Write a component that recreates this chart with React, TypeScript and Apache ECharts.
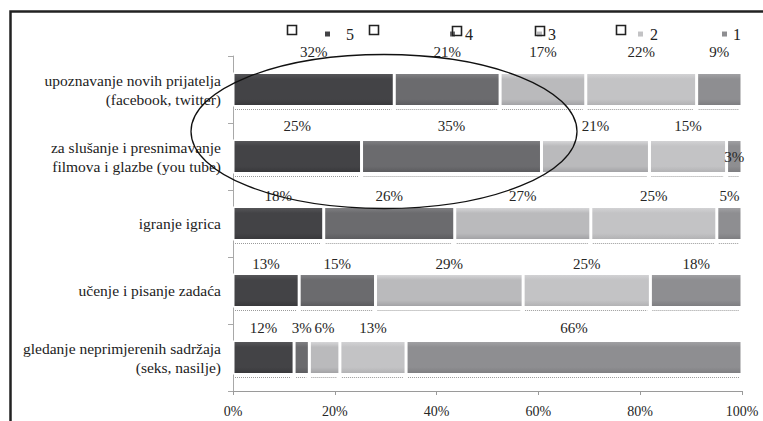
import React, { useEffect, useRef } from "react";
import * as echarts from "echarts";

const categories = [
  "upoznavanje novih prijatelja\n(facebook, twitter)",
  "za slušanje i presnimavanje\nfilmova i glazbe (you tube)",
  "igranje igrica",
  "učenje i pisanje zadaća",
  "gledanje neprimjerenih sadržaja\n(seks, nasilje)",
];
const seriesNames = ["5", "4", "3", "2", "1"];
const s5 = [32, 25, 18, 13, 12];
const s4 = [21, 35, 26, 15, 3];
const s3 = [17, 21, 27, 29, 6];
const s2 = [22, 15, 25, 25, 13];
const s1 = [9, 3, 5, 18, 66];
const xTicks = [0, 20, 40, 60, 80, 100];

const FONT = "'Liberation Serif', 'Times New Roman', serif";

// style-only settings
const labelLift = [13, 6, 3, 2, 5];
const legendLeft = [318, 443, 530, 631, 715];
const legendTextPad = [10, 4, 0, 1, 0];
const emptyBoxes = [
  [292, 30],
  [374, 30],
  [457, 31],
  [540, 31],
  [621, 30],
];
const palette = [
  ["#58585b", "#434346", "#37373a"],
  ["#838386", "#6b6b6e", "#5a5a5d"],
  ["#dadadc", "#bababc", "#a0a0a3"],
  ["#d4d4d6", "#c3c3c5", "#b0b0b2"],
  ["#a3a3a6", "#8e8e91", "#7c7c7f"],
];

export default function App() {
  const ref = useRef<HTMLDivElement>(null);
  useEffect(() => {
    if (!ref.current) return;
    const chart = echarts.init(ref.current, null, { renderer: "svg" });
    const raw = [s5, s4, s3, s2, s1];
    const totals = categories.map((_, c) => raw.reduce((a, s) => a + s[c], 0));
    const shares = raw.map((s) => s.map((v, c) => (v / totals[c]) * 100));

    const grad = (p: string[]) =>
      new echarts.graphic.LinearGradient(0, 0, 0, 1, [
        { offset: 0, color: p[0] },
        { offset: 0.18, color: p[1] },
        { offset: 0.8, color: p[1] },
        { offset: 1, color: p[2] },
      ]);

    const barSeries = seriesNames.map((name, si) => ({
      name,
      type: "bar",
      stack: "total",
      barWidth: 34,
      itemStyle: { color: grad(palette[si]), borderColor: "#ffffff", borderWidth: 1.5 },
      label: {
        show: true,
        position: "top",
        fontFamily: FONT,
        fontSize: 15,
        color: "#262626",
        formatter: (p: any) => raw[si][p.dataIndex] + "%",
      },
      data: shares[si].map((v, c) => {
        const item: any = {
          value: v,
          label: { distance: labelLift[c] },
        };
        if (v < 4 && si === 4) {
          item.label = { position: "inside", distance: 0 };
        }
        return item;
      }),
    }));

    // dotted underline under each segment
    const segs: number[][] = [];
    categories.forEach((_, c) => {
      let acc = 0;
      shares.forEach((s) => {
        segs.push([c, acc, acc + s[c]]);
        acc += s[c];
      });
    });
    const underline = {
      type: "custom",
      silent: true,
      renderItem: (params: any, api: any) => {
        const c = api.value(0);
        const a = api.coord([api.value(1), c]);
        const b = api.coord([api.value(2), c]);
        const y = a[1] + 20;
        return {
          type: "line",
          shape: { x1: a[0] + 2, y1: y, x2: b[0] - 3, y2: y },
          style: { stroke: "#9a9a9a", lineWidth: 1, lineDash: [1, 1] },
        };
      },
      encode: { x: [1, 2], y: 0 },
      data: segs,
      z: 1,
    };

    chart.setOption({
      animation: false,
      grid: { left: 233, right: 21, top: 56, bottom: 30 },
      legend: seriesNames.map((n, i) => ({
        data: [n],
        left: legendLeft[i],
        top: 21,
        icon: "rect",
        itemWidth: 7,
        itemHeight: 7,
        selectedMode: false,
        textStyle: {
          fontFamily: FONT,
          fontSize: 16,
          color: "#222",
          padding: [0, 0, 0, legendTextPad[i]],
        },
      })),
      xAxis: {
        type: "value",
        min: xTicks[0],
        max: xTicks[xTicks.length - 1],
        interval: 20,
        axisLine: { show: true, lineStyle: { color: "#9a9a9a" } },
        axisTick: { show: true, length: 4, lineStyle: { color: "#9a9a9a" } },
        splitLine: { show: false },
        axisLabel: {
          fontFamily: FONT,
          fontSize: 14,
          color: "#262626",
          margin: 13,
          formatter: "{value}%",
        },
      },
      yAxis: {
        type: "category",
        inverse: true,
        data: categories,
        axisLine: { show: true, lineStyle: { color: "#a8a8a8" } },
        axisTick: { show: true, length: 5, alignWithLabel: false, lineStyle: { color: "#a8a8a8" } },
        axisLabel: {
          fontFamily: FONT,
          fontSize: 15.5,
          lineHeight: 19,
          color: "#222",
          margin: 12,
          align: "right",
        },
      },
      series: [...barSeries, underline],
      graphic: [
        {
          type: "polyline",
          shape: { points: [[10.5, 440], [10.5, 11.5], [780, 11.5]] },
          style: { stroke: "#222", lineWidth: 2.5, fill: "none" },
          z: 100,
        },
        ...emptyBoxes.map(([x, y]) => ({
          type: "rect",
          shape: { x: x - 4.5, y: y - 4.5, width: 9, height: 9 },
          style: { stroke: "#222", lineWidth: 1.6, fill: "none" },
          z: 100,
        })),
        {
          type: "ellipse",
          shape: { cx: 384, cy: 131.5, rx: 193, ry: 77 },
          style: { stroke: "#111", lineWidth: 1.3, fill: "none" },
          z: 100,
        },
      ],
    });
    return () => chart.dispose();
  }, []);
  return (
    <div
      ref={ref}
      style={{ position: "fixed", left: 0, top: 0, width: 763, height: 421, background: "#fff" }}
    />
  );
}
